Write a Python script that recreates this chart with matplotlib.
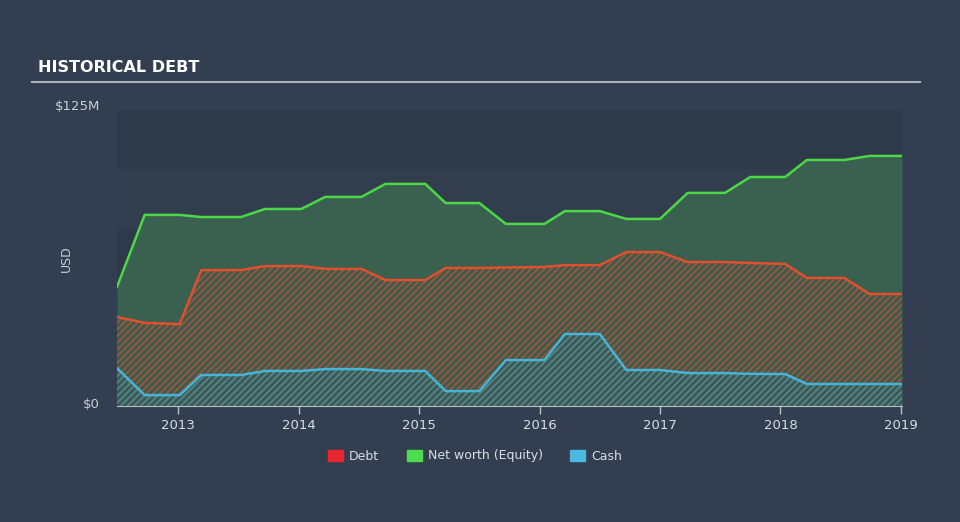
import numpy as np
import matplotlib.pyplot as plt
from matplotlib.patches import Patch
from matplotlib import font_manager

# values in $M
years = [2012.49, 2012.72, 2013.01, 2013.19, 2013.52, 2013.72, 2014.02, 2014.22, 2014.52, 2014.72,
         2015.05, 2015.22, 2015.50, 2015.72, 2016.04, 2016.21, 2016.50, 2016.72, 2017.00, 2017.23,
         2017.54, 2017.75, 2018.04, 2018.22, 2018.53, 2018.74, 2019.01]
networth = [50.3, 80.7, 80.7, 79.8, 79.8, 83.2, 83.2, 88.3, 88.3, 93.8,
            93.8, 85.7, 85.7, 76.9, 76.9, 82.3, 82.3, 79.0, 79.0, 90.0,
            90.0, 96.7, 96.7, 103.9, 103.9, 105.6, 105.6]
debt = [37.6, 35.1, 34.6, 57.4, 57.4, 59.1, 59.1, 57.9, 57.9, 53.2,
        53.2, 58.3, 58.3, 58.5, 58.7, 59.5, 59.5, 65.0, 65.0, 60.8,
        60.8, 60.4, 60.0, 54.1, 54.1, 47.3, 47.3]
cash = [16.0, 4.6, 4.6, 13.1, 13.1, 14.8, 14.8, 15.6, 15.6, 14.8,
        14.8, 6.3, 6.3, 19.4, 19.4, 30.4, 30.4, 15.2, 15.2, 13.9,
        13.9, 13.6, 13.5, 9.3, 9.3, 9.3, 9.3]
tick_years = [2013, 2014, 2015, 2016, 2017, 2018, 2019]

bg = '#333f50'
fig = plt.figure(figsize=(9.6, 5.22), dpi=100, facecolor=bg)
ax = fig.add_axes([117/960, 1 - 406/522, 785/960, 296/522])
ax.set_facecolor('#2f3b4b')

# alternating bands
for i, lo in enumerate(range(0, 125, 25)):
    ax.axhspan(lo, lo + 25, color='#2e3a4a' if i % 2 == 0 else '#323e4e', lw=0, zorder=0)

x = np.array(years)
ax.fill_between(x, 0, networth, color='#3a604f', lw=0, zorder=1)
ax.plot(x, networth, color='#4cd846', lw=1.8, zorder=5)

plt.rcParams['hatch.linewidth'] = 1.4
ax.fill_between(x, 0, debt, facecolor='#3d5a4c', edgecolor='#92593e', hatch='/////', lw=0, zorder=2)
ax.plot(x, debt, color='#e0502e', lw=1.8, zorder=5)

ax.fill_between(x, 0, cash, facecolor='#3d5a52', edgecolor='#52828a', hatch='/////', lw=0, zorder=3)
ax.plot(x, cash, color='#44b4d8', lw=1.8, zorder=5)

ax.set_xlim(2012.49, 2019.01)
ax.set_ylim(0, 125)
ax.set_yticks([])
ax.set_xticks(tick_years)
ax.set_xticklabels([str(t) for t in tick_years])
ax.tick_params(axis='x', colors='#b8c0cc', labelcolor='#d8dde4', labelsize=9.5, length=6, width=1)
for s in ['top', 'left', 'right']:
    ax.spines[s].set_visible(False)
ax.spines['bottom'].set_color('#b8c0cc')

fig.text(100/960, 1 - 107/522, '$125M', color='#c8ced6', fontsize=9.5, ha='right', va='center')
fig.text(100/960, 1 - 404/522, '$0', color='#c8ced6', fontsize=9.5, ha='right', va='center')
fig.text(66/960, 1 - 259/522, 'USD', color='#c8ced6', fontsize=9, rotation=90, ha='center', va='center')

names = {f.name for f in font_manager.fontManager.ttflist}
title_font = 'Liberation Sans Narrow' if 'Liberation Sans Narrow' in names else 'DejaVu Sans'
fig.text(38/960, 1 - 68/522, 'HISTORICAL DEBT', color='white', fontsize=11.5, fontweight='bold',
         family=title_font, va='center')
fig.add_artist(plt.Line2D([32/960, 920/960], [1 - 82/522, 1 - 82/522], color='#a8b0ba', lw=1.5))

handles = [Patch(color='#e8262b', label='Debt'),
           Patch(color='#4cdc4c', label='Net worth (Equity)'),
           Patch(color='#4ab8e0', label='Cash')]
fig.legend(handles=handles, loc='center', bbox_to_anchor=(475/960, 1 - 456/522), ncol=3, frameon=False,
           labelcolor='#d8dde4', fontsize=9, handlelength=1.2, handleheight=1.0, columnspacing=2.2,
           handletextpad=0.5)

fig.savefig('out.png', dpi=100, facecolor=bg)
